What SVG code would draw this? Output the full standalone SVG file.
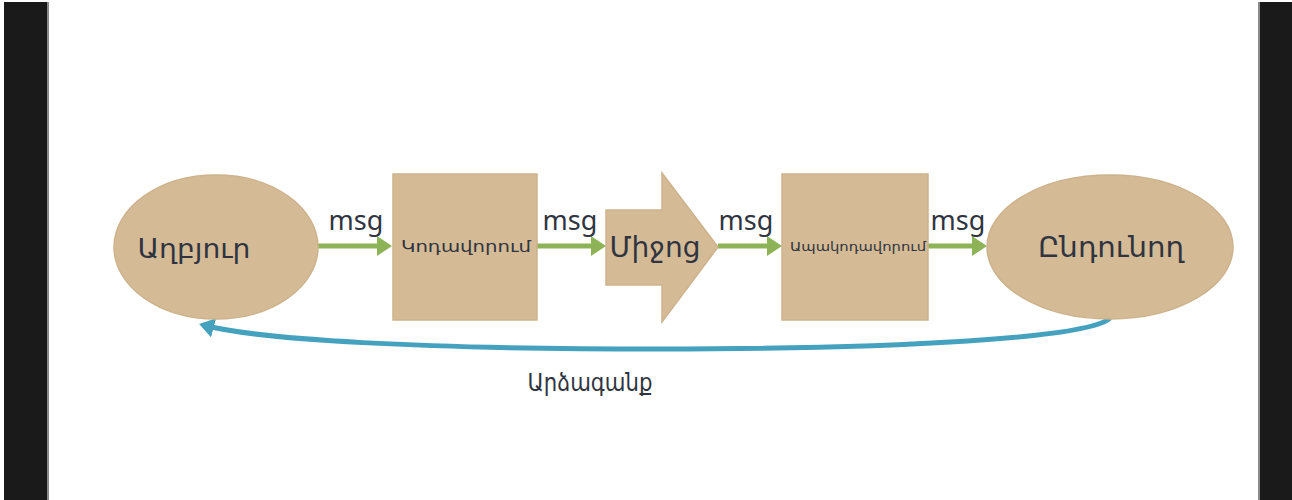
<svg xmlns="http://www.w3.org/2000/svg" width="1292" height="500" viewBox="0 0 1292 500">
<style>
.bar{fill:#1a1a1a}
.edge{fill:#8a8a8a}
.shape{fill:#d4bb96;stroke:#cdb28b;stroke-width:1.5}
.t{font-family:"Noto Sans","DejaVu Sans",sans-serif;fill:#2f3440;text-anchor:middle}
.msg{font-family:"Noto Sans","DejaVu Sans",sans-serif;fill:#2f3440;font-size:27px;text-anchor:middle}
.g{stroke:#8db356;stroke-width:5;fill:none}
.b{stroke:#45a2bf;stroke-width:5;fill:none}
</style>
<defs>
<marker id="ga" markerWidth="4" markerHeight="4" refX="2.2" refY="2" orient="auto" markerUnits="strokeWidth">
<path d="M0,0 L3,2 L0,4 Z" fill="#8db356"/>
</marker>
<marker id="ba" markerWidth="4" markerHeight="4" refX="2.2" refY="2" orient="auto" markerUnits="strokeWidth">
<path d="M0,0 L3,2 L0,4 Z" fill="#45a2bf"/>
</marker>
</defs>
<rect width="1292" height="500" fill="#ffffff"/>
<rect class="bar" x="4" y="2" width="44" height="498"/>
<rect class="edge" x="47" y="2" width="2" height="498"/>
<rect class="bar" x="1259" y="2" width="33" height="498"/>
<rect class="edge" x="1258" y="2" width="2" height="498"/>

<g id="connectors">
<line class="g" x1="318" y1="246" x2="388" y2="246" marker-end="url(#ga)"/>
<line class="g" x1="537" y1="246" x2="602" y2="246" marker-end="url(#ga)"/>
<line class="g" x1="718" y1="246" x2="778" y2="246" marker-end="url(#ga)"/>
<line class="g" x1="928" y1="246" x2="983" y2="246" marker-end="url(#ga)"/>
<path class="b" d="M1110,318 C1090,338 900,349 660,349 C420,349 260,340 203,325" marker-end="url(#ba)"/>
<text class="msg" x="356" y="230">msg</text>
<text class="msg" x="570" y="230">msg</text>
<text class="msg" x="746" y="230">msg</text>
<text class="msg" x="958" y="230">msg</text>
<text class="t" x="590" y="391" font-size="25" textLength="125" lengthAdjust="spacingAndGlyphs">Արձագանք</text>
</g>

<g id="node-source">
<ellipse class="shape" cx="216" cy="247" rx="102" ry="72"/>
<text class="t" x="194" y="258" font-size="27" textLength="113" lengthAdjust="spacingAndGlyphs">Աղբյուր</text>
</g>
<g id="node-encoder">
<rect class="shape" x="393" y="174" width="144" height="146"/>
<text class="t" x="466" y="252" font-size="15" textLength="130" lengthAdjust="spacingAndGlyphs">Կոդավորում</text>
</g>
<g id="node-channel">
<path class="shape" d="M606,210 L662,210 L662,173 L718,247 L662,322 L662,285 L606,285 Z"/>
<text class="t" x="655" y="257" font-size="28">Միջոց</text>
</g>
<g id="node-decoder">
<rect class="shape" x="782" y="174" width="146" height="146"/>
<text class="t" x="858" y="251" font-size="13" textLength="136" lengthAdjust="spacingAndGlyphs">Ապակոդավորում</text>
</g>
<g id="node-receiver">
<ellipse class="shape" cx="1110" cy="247" rx="123" ry="72"/>
<text class="t" x="1111" y="257" font-size="28" textLength="146" lengthAdjust="spacingAndGlyphs">Ընդունող</text>
</g>
</svg>
